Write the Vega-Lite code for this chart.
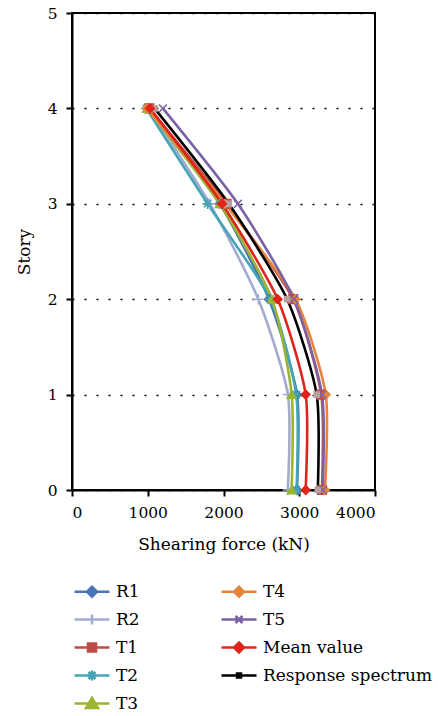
{
  "$schema": "https://vega.github.io/schema/vega-lite/v6.json",
  "width": 303,
  "height": 477,
  "autosize": {"type": "none"},
  "padding": {"left": 72, "top": 13, "right": 63, "bottom": 226},
  "background": "white",
  "config": {
    "font": "DejaVu Serif",
    "view": {"stroke": "black", "strokeWidth": 2},
    "axis": {
      "labelFont": "DejaVu Serif",
      "titleFont": "DejaVu Serif",
      "labelFontSize": 15.5,
      "titleFontSize": 17,
      "titleFontWeight": "normal",
      "labelColor": "black",
      "titleColor": "black",
      "domainColor": "black",
      "domainWidth": 2,
      "tickColor": "black",
      "tickWidth": 2,
      "tickSize": 6
    }
  },
  "data": {
    "values": [
      {"series": "R1", "story": 0, "force": 2970},
      {"series": "R1", "story": 1, "force": 2970},
      {"series": "R1", "story": 2, "force": 2600},
      {"series": "R1", "story": 3, "force": 1950},
      {"series": "R1", "story": 4, "force": 1000},
      {"series": "R2", "story": 0, "force": 2850},
      {"series": "R2", "story": 1, "force": 2850},
      {"series": "R2", "story": 2, "force": 2460},
      {"series": "R2", "story": 3, "force": 1820},
      {"series": "R2", "story": 4, "force": 1010},
      {"series": "T1", "story": 0, "force": 3300},
      {"series": "T1", "story": 1, "force": 3290},
      {"series": "T1", "story": 2, "force": 2920},
      {"series": "T1", "story": 3, "force": 2040},
      {"series": "T1", "story": 4, "force": 1020},
      {"series": "T2", "story": 0, "force": 2965},
      {"series": "T2", "story": 1, "force": 2960},
      {"series": "T2", "story": 2, "force": 2620},
      {"series": "T2", "story": 3, "force": 1790},
      {"series": "T2", "story": 4, "force": 980},
      {"series": "T3", "story": 0, "force": 2900},
      {"series": "T3", "story": 1, "force": 2900},
      {"series": "T3", "story": 2, "force": 2640},
      {"series": "T3", "story": 3, "force": 1950},
      {"series": "T3", "story": 4, "force": 990},
      {"series": "T4", "story": 0, "force": 3340},
      {"series": "T4", "story": 1, "force": 3350},
      {"series": "T4", "story": 2, "force": 2950},
      {"series": "T4", "story": 3, "force": 2020},
      {"series": "T4", "story": 4, "force": 990},
      {"series": "T5", "story": 0, "force": 3310},
      {"series": "T5", "story": 1, "force": 3300},
      {"series": "T5", "story": 2, "force": 2930},
      {"series": "T5", "story": 3, "force": 2190},
      {"series": "T5", "story": 4, "force": 1200},
      {"series": "Response spectrum", "story": 0, "force": 3245},
      {"series": "Response spectrum", "story": 1, "force": 3230},
      {"series": "Response spectrum", "story": 2, "force": 2840},
      {"series": "Response spectrum", "story": 3, "force": 2070},
      {"series": "Response spectrum", "story": 4, "force": 1090},
      {"series": "Mean value", "story": 0, "force": 3085},
      {"series": "Mean value", "story": 1, "force": 3085},
      {"series": "Mean value", "story": 2, "force": 2715},
      {"series": "Mean value", "story": 3, "force": 1980},
      {"series": "Mean value", "story": 4, "force": 1030}
    ]
  },
  "encoding": {
    "x": {
      "field": "force",
      "type": "quantitative",
      "scale": {"domain": [0, 4000]},
      "axis": {
        "title": "Shearing force (kN)",
        "values": [0, 1000, 2000, 3000, 4000],
        "format": "d",
        "grid": false,
        "labelPadding": 9,
        "titlePadding": 16
      }
    },
    "y": {
      "field": "story",
      "type": "quantitative",
      "scale": {"domain": [0, 5]},
      "axis": {
        "title": "Story",
        "values": [0, 1, 2, 3, 4, 5],
        "format": "d",
        "grid": true,
        "gridColor": "black",
        "gridDash": [2, 10],
        "gridWidth": 1.3,
        "labelPadding": 9,
        "titlePadding": 14
      }
    }
  },
  "layer": [
    {
      "mark": {"type": "line", "interpolate": "cardinal", "tension": 0.35, "strokeWidth": 2.6},
      "encoding": {
        "color": {
          "field": "series",
          "type": "nominal",
          "scale": {
            "domain": ["R1", "R2", "T1", "T2", "T3", "T4", "T5", "Mean value", "Response spectrum"],
            "range": ["#4A72B8", "#A3AAD2", "#BE4B48", "#45A5B5", "#9BB530", "#E5843C", "#7B62A5", "#E0231B", "#000000"]
          },
          "legend": null
        },
        "order": {"field": "story", "type": "quantitative"}
      }
    },
    {
      "mark": {"type": "point", "filled": true, "size": 75, "strokeWidth": 1.5, "opacity": 1},
      "encoding": {
        "fill": {
          "field": "series",
          "type": "nominal",
          "scale": {
            "domain": ["R1", "R2", "T1", "T2", "T3", "T4", "T5", "Mean value", "Response spectrum"],
            "range": ["#4A72B8", "#A3AAD2", "#BE4B48", "#45A5B5", "#9BB530", "#E5843C", "#7B62A5", "#E0231B", "#B8A0A0"]
          },
          "legend": null
        },
        "stroke": {
          "field": "series",
          "type": "nominal",
          "scale": {
            "domain": ["R1", "R2", "T1", "T2", "T3", "T4", "T5", "Mean value", "Response spectrum"],
            "range": ["#4A72B8", "#A3AAD2", "#BE4B48", "#45A5B5", "#9BB530", "#E5843C", "#7B62A5", "#E0231B", "#B8A0A0"]
          },
          "legend": null
        },
        "shape": {
          "field": "series",
          "type": "nominal",
          "scale": {
            "domain": ["R1", "R2", "T1", "T2", "T3", "T4", "T5", "Mean value", "Response spectrum"],
            "range": [
              "diamond",
              "M-1.2,0H1.2M0,-1.2V1.2",
              "square",
              "M-1.2,0H1.2M0,-1.2V1.2M-0.85,-0.85L0.85,0.85M-0.85,0.85L0.85,-0.85",
              "triangle-up",
              "diamond",
              "M-0.9,-0.9L0.9,0.9M-0.9,0.9L0.9,-0.9",
              "diamond",
              "M-0.6,-0.6H0.6V0.6H-0.6Z"
            ]
          },
          "legend": null
        }
      }
    },
    {
      "transform": [{"filter": "datum.story < 0"}],
      "mark": {"type": "point", "filled": true},
      "encoding": {
        "fill": {
          "field": "series",
          "type": "nominal",
          "scale": {
            "domain": ["R1", "R2", "T1", "T2", "T3", "T4", "T5", "Mean value", "Response spectrum"],
            "range": ["#4A72B8", "#A3AAD2", "#BE4B48", "#45A5B5", "#9BB530", "#E5843C", "#7B62A5", "#E0231B", "#B8A0A0"]
          },
          "legend": {
            "title": null, "orient": "none", "legendX": -1, "legendY": 570,
            "columns": 2, "columnPadding": 76, "rowPadding": 7, "padding": 0,
            "symbolSize": 100, "symbolStrokeWidth": 2.5, "symbolFillColor": "black", "symbolStrokeColor": "black", "symbolOpacity": 1,
            "labelFont": "DejaVu Serif", "labelFontSize": 17, "labelColor": "black", "labelOffset": 28, "labelLimit": 300
          }
        },
        "stroke": {
          "field": "series",
          "type": "nominal",
          "scale": {
            "domain": ["R1", "R2", "T1", "T2", "T3", "T4", "T5", "Mean value", "Response spectrum"],
            "range": ["#4A72B8", "#A3AAD2", "#BE4B48", "#45A5B5", "#9BB530", "#E5843C", "#7B62A5", "#E0231B", "#000000"]
          },
          "legend": {
            "title": null, "orient": "none", "legendX": -1, "legendY": 570,
            "columns": 2, "columnPadding": 76, "rowPadding": 7, "padding": 0,
            "symbolSize": 100, "symbolStrokeWidth": 2.5, "symbolFillColor": "black", "symbolStrokeColor": "black", "symbolOpacity": 1,
            "labelFont": "DejaVu Serif", "labelFontSize": 17, "labelColor": "black", "labelOffset": 28, "labelLimit": 300
          }
        },
        "shape": {
          "field": "series",
          "type": "nominal",
          "scale": {
            "domain": ["R1", "R2", "T1", "T2", "T3", "T4", "T5", "Mean value", "Response spectrum"],
            "range": [
              "M-1,0H6M2.5,-1L3.5,0L2.5,1L1.5,0Z",
              "M-1,0H6M2.5,-1V1",
              "M-1,0H6M1.7,-0.8H3.3V0.8H1.7Z",
              "M-1,0H6M2.5,-1V1M1.8,-0.7L3.2,0.7M1.8,0.7L3.2,-0.7",
              "M-1,0H6M2.5,-1.1L3.7,0.9H1.3Z",
              "M-1,0H6M2.5,-1L3.5,0L2.5,1L1.5,0Z",
              "M-1,0H6M1.8,-0.7L3.2,0.7M1.8,0.7L3.2,-0.7",
              "M-1,0H6M2.5,-1L3.5,0L2.5,1L1.5,0Z",
              "M-1,0H6M2.1,-0.4H2.9V0.4H2.1Z"
            ]
          },
          "legend": {
            "title": null, "orient": "none", "legendX": -1, "legendY": 570,
            "columns": 2, "columnPadding": 76, "rowPadding": 7, "padding": 0,
            "symbolSize": 100, "symbolStrokeWidth": 2.5, "symbolFillColor": "black", "symbolStrokeColor": "black", "symbolOpacity": 1,
            "labelFont": "DejaVu Serif", "labelFontSize": 17, "labelColor": "black", "labelOffset": 28, "labelLimit": 300
          }
        }
      }
    }
  ],
  "resolve": {"scale": {"fill": "independent", "stroke": "independent", "shape": "independent"}}
}
